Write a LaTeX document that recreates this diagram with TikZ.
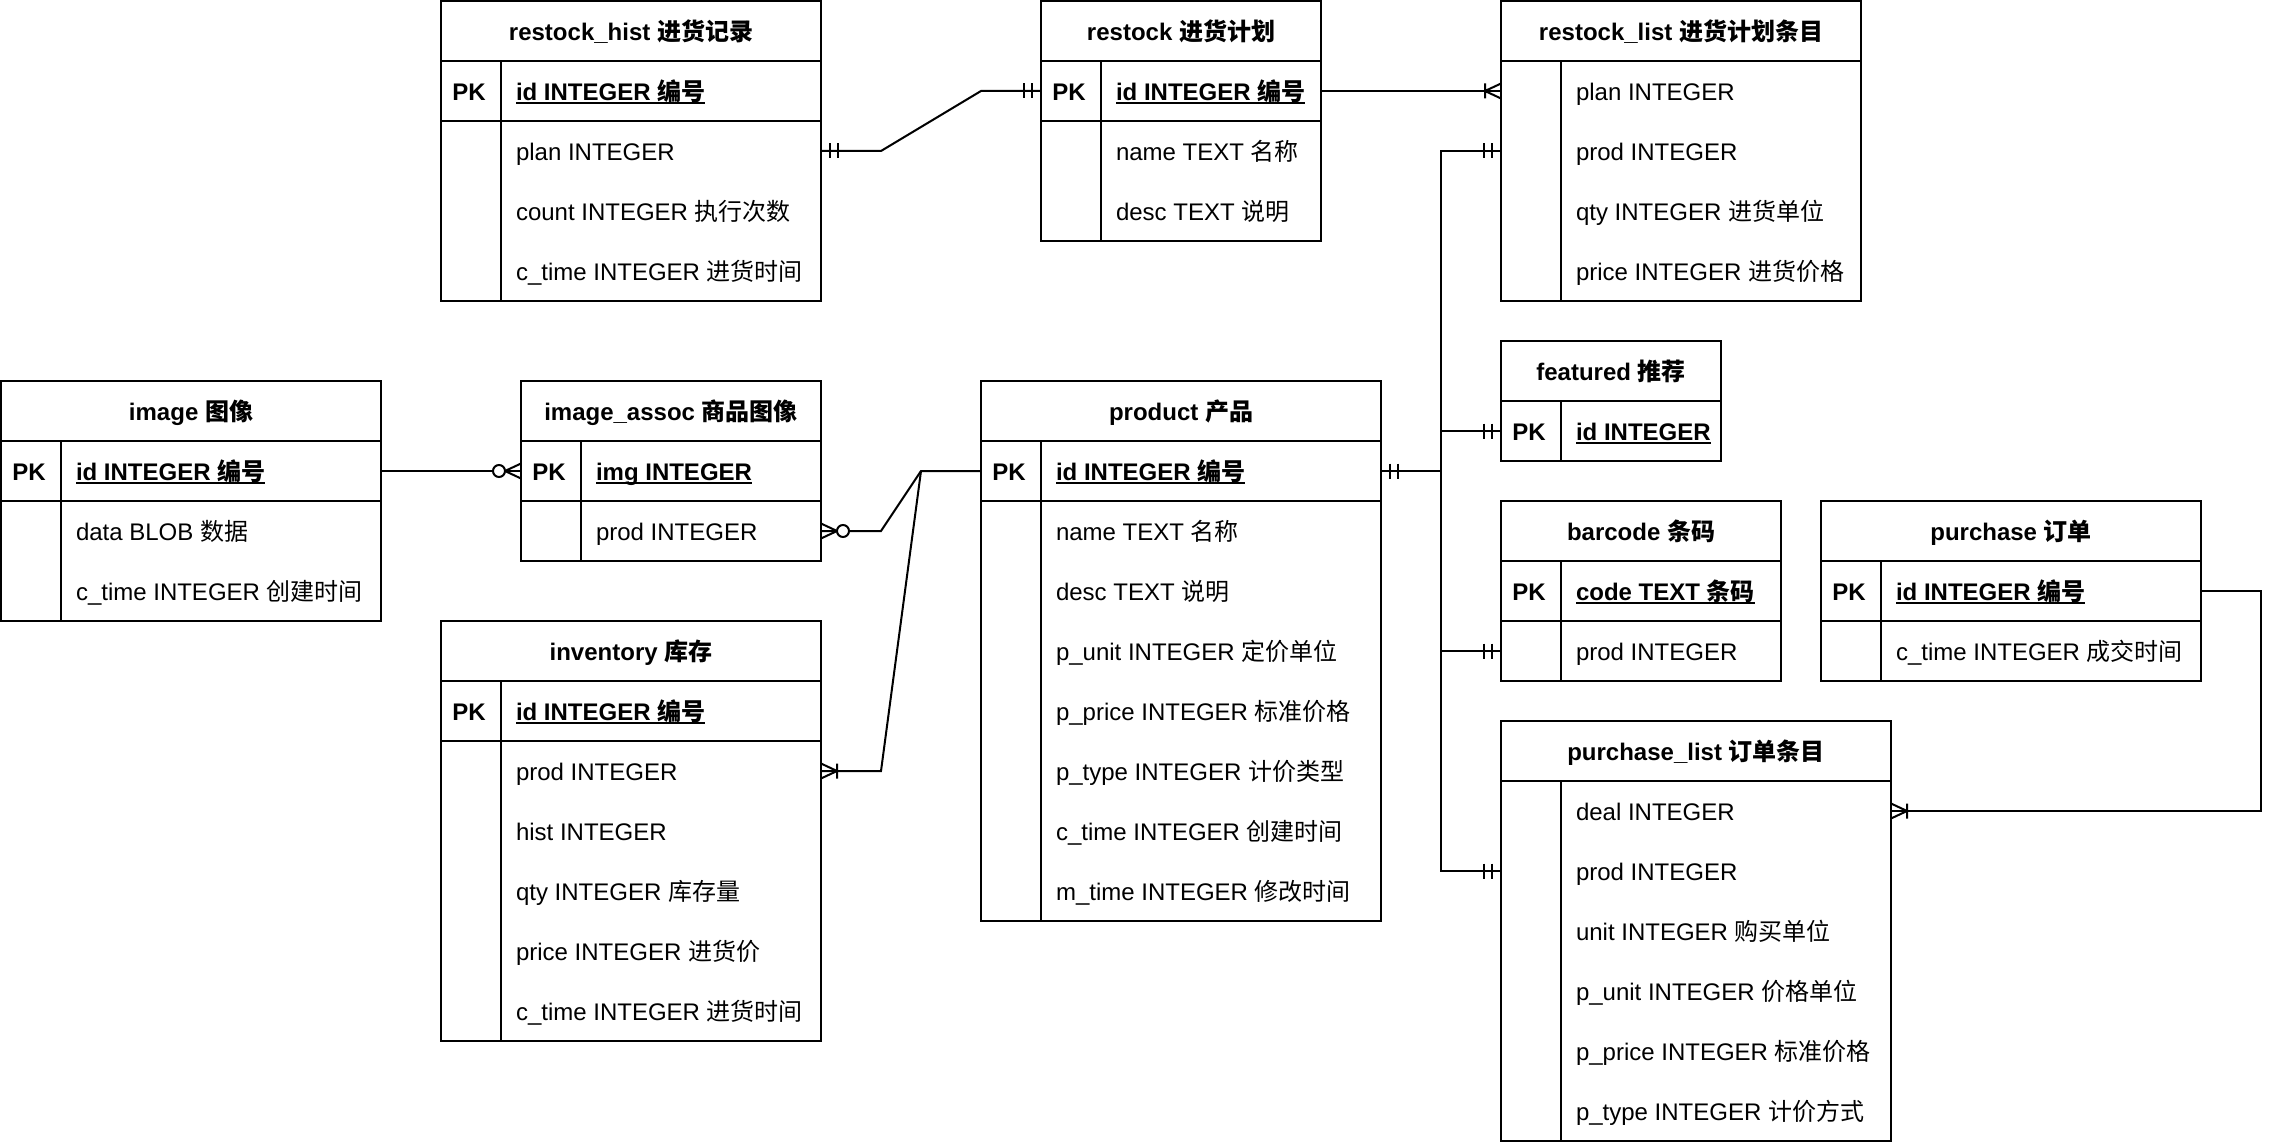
\documentclass[tikz,border=0pt]{standalone}
\usepackage{fontspec}
\setmainfont{Liberation Sans}
\newfontfamily\cjk{Noto Sans CJK SC}
\usetikzlibrary{calc}
\def\zh#1{{\cjk #1}}
\def\ul#1{\setbox0\hbox{#1}\rlap{\rule[-1.8pt]{\wd0}{1pt}}\box0}
% table body below a header node: #1 header, #2 rows, #3 rows with PK line
\def\erbody#1#2#3{%
  \draw (#1.south west) rectangle ($(#1.south east)+(0,#2*30)$);
  \draw ($(#1.south west)+(30,0)$) -- ++(0,#2*30);
  \ifnum#3>0 \draw ($(#1.south west)+(0,30)$) -- ($(#1.south east)+(0,30)$);\fi}
\tikzset{
  hdr/.style={draw, anchor=north west, minimum height=30pt, inner sep=0pt, outer sep=0pt,
    font=\bfseries, text height=11pt, text depth=1.6pt},
  fld/.style={anchor=west, inner sep=0pt, xshift=-1pt, text height=11pt, text depth=1.6pt},
  pfld/.style={fld, font=\bfseries},
  pkey/.style={fld, anchor=center, xshift=0pt, font=\bfseries},
  erone/.pic={\draw (4.5,-3.75) -- (4.5,3.75) (8.5,-3.75) -- (8.5,3.75);},
  ermany/.pic={\draw (0,-3.75) -- (8,0) -- (0,3.75) (8,-3.75) -- (8,3.75);},
  erzeromany/.pic={\draw (0,-3.75) -- (8,0) -- (0,3.75); \draw[fill=white] (11,0) circle (3);}
}
\begin{document}
\fontsize{12}{14.4}\selectfont
\begin{tikzpicture}[x=1pt, y=-1pt, line width=1pt]
\useasboundingbox (-0.5,-0.5) rectangle (1138.5,571.5);

% restock_hist
\node[hdr, minimum width=190pt] (rhist) at (220,0) {restock\_hist \zh{进货记录}};
\erbody{rhist}{4}{1}
\node[pkey] at (235,45) {PK};
\node[pfld] (rhist-id) at (258,45) {\ul{id INTEGER \zh{编号}}};
\node[fld] (rhist-plan) at (258,75) {plan INTEGER};
\node[fld] (rhist-count) at (258,105) {count INTEGER \zh{执行次数}};
\node[fld] (rhist-ctime) at (258,135) {c\_time INTEGER \zh{进货时间}};

% restock
\node[hdr, minimum width=140pt] (rplan) at (520,0) {restock \zh{进货计划}};
\erbody{rplan}{3}{1}
\node[pkey] at (535,45) {PK};
\node[pfld] (rplan-id) at (558,45) {\ul{id INTEGER \zh{编号}}};
\node[fld] (rplan-name) at (558,75) {name TEXT \zh{名称}};
\node[fld] (rplan-desc) at (558,105) {desc TEXT \zh{说明}};

% restock_list
\node[hdr, minimum width=180pt] (rlist) at (750,0) {restock\_list \zh{进货计划条目}};
\erbody{rlist}{4}{0}
\node[fld] (rlist-plan) at (788,45) {plan INTEGER};
\node[fld] (rlist-prod) at (788,75) {prod INTEGER};
\node[fld] (rlist-qty) at (788,105) {qty INTEGER \zh{进货单位}};
\node[fld] (rlist-price) at (788,135) {price INTEGER \zh{进货价格}};

% featured
\node[hdr, minimum width=110pt] (feat) at (750,170) {featured \zh{推荐}};
\erbody{feat}{1}{0}
\node[pkey] at (765,215) {PK};
\node[pfld] (feat-id) at (788,215) {\ul{id INTEGER}};

% image
\node[hdr, minimum width=190pt] (img) at (0,190) {image \zh{图像}};
\erbody{img}{3}{1}
\node[pkey] at (15,235) {PK};
\node[pfld] (img-id) at (38,235) {\ul{id INTEGER \zh{编号}}};
\node[fld] (img-data) at (38,265) {data BLOB \zh{数据}};
\node[fld] (img-ctime) at (38,295) {c\_time INTEGER \zh{创建时间}};

% image_assoc
\node[hdr, minimum width=150pt] (assoc) at (260,190) {image\_assoc \zh{商品图像}};
\erbody{assoc}{2}{1}
\node[pkey] at (275,235) {PK};
\node[pfld] (assoc-img) at (298,235) {\ul{img INTEGER}};
\node[fld] (assoc-prod) at (298,265) {prod INTEGER};

% product
\node[hdr, minimum width=200pt] (prod) at (490,190) {product \zh{产品}};
\erbody{prod}{8}{1}
\node[pkey] at (505,235) {PK};
\node[pfld] (prod-id) at (528,235) {\ul{id INTEGER \zh{编号}}};
\node[fld] (prod-name) at (528,265) {name TEXT \zh{名称}};
\node[fld] (prod-desc) at (528,295) {desc TEXT \zh{说明}};
\node[fld] (prod-punit) at (528,325) {p\_unit INTEGER \zh{定价单位}};
\node[fld] (prod-pprice) at (528,355) {p\_price INTEGER \zh{标准价格}};
\node[fld] (prod-ptype) at (528,385) {p\_type INTEGER \zh{计价类型}};
\node[fld] (prod-ctime) at (528,415) {c\_time INTEGER \zh{创建时间}};
\node[fld] (prod-mtime) at (528,445) {m\_time INTEGER \zh{修改时间}};

% inventory
\node[hdr, minimum width=190pt] (inv) at (220,310) {inventory \zh{库存}};
\erbody{inv}{6}{1}
\node[pkey] at (235,355) {PK};
\node[pfld] (inv-id) at (258,355) {\ul{id INTEGER \zh{编号}}};
\node[fld] (inv-prod) at (258,385) {prod INTEGER};
\node[fld] (inv-hist) at (258,415) {hist INTEGER};
\node[fld] (inv-qty) at (258,445) {qty INTEGER \zh{库存量}};
\node[fld] (inv-price) at (258,475) {price INTEGER \zh{进货价}};
\node[fld] (inv-ctime) at (258,505) {c\_time INTEGER \zh{进货时间}};

% barcode
\node[hdr, minimum width=140pt] (code) at (750,250) {barcode \zh{条码}};
\erbody{code}{2}{1}
\node[pkey] at (765,295) {PK};
\node[pfld] (code-code) at (788,295) {\ul{code TEXT \zh{条码}}};
\node[fld] (code-prod) at (788,325) {prod INTEGER};

% purchase
\node[hdr, minimum width=190pt] (deal) at (910,250) {purchase \zh{订单}};
\erbody{deal}{2}{1}
\node[pkey] at (925,295) {PK};
\node[pfld] (deal-id) at (948,295) {\ul{id INTEGER \zh{编号}}};
\node[fld] (deal-ctime) at (948,325) {c\_time INTEGER \zh{成交时间}};

% purchase_list
\node[hdr, minimum width=195pt] (dlist) at (750,360) {purchase\_list \zh{订单条目}};
\erbody{dlist}{6}{0}
\node[fld] (dlist-deal) at (788,405) {deal INTEGER};
\node[fld] (dlist-prod) at (788,435) {prod INTEGER};
\node[fld] (dlist-unit) at (788,465) {unit INTEGER \zh{购买单位}};
\node[fld] (dlist-punit) at (788,495) {p\_unit INTEGER \zh{价格单位}};
\node[fld] (dlist-pprice) at (788,525) {p\_price INTEGER \zh{标准价格}};
\node[fld] (dlist-ptype) at (788,555) {p\_type INTEGER \zh{计价方式}};

% relations
\draw (rhist-plan -| rhist.east) -- ++(30,0) -- ($(rplan-id -| rplan.west)+(-30,0)$) -- (rplan-id -| rplan.west);
\path (rhist-plan -| rhist.east) pic {erone} (rplan-id -| rplan.west) pic[xscale=-1] {erone};

\draw (rplan-id -| rplan.east) -- (rlist-plan -| rlist.west);
\path (rlist-plan -| rlist.west) pic[xscale=-1] {ermany};

\coordinate (trunk) at ($(prod-id -| prod.east)+(30,0)$);
\draw (prod-id -| prod.east) -- (trunk) |- (rlist-prod -| rlist.west);
\draw (trunk) |- (feat-id -| feat.west);
\draw (trunk) |- (code-prod -| code.west);
\draw (trunk) |- (dlist-prod -| dlist.west);
\path (prod-id -| prod.east) pic {erone};
\foreach \t/\r in {rlist/rlist-prod, feat/feat-id, code/code-prod, dlist/dlist-prod}
  \path (\r -| \t.west) pic[xscale=-1] {erone};

\draw (img-id -| img.east) -- (assoc-img -| assoc.west);
\path (assoc-img -| assoc.west) pic[xscale=-1] {erzeromany};

\draw (assoc-prod -| assoc.east) -- ++(30,0) -- ($(prod-id -| prod.west)+(-30,0)$) -- (prod-id -| prod.west);
\path (assoc-prod -| assoc.east) pic {erzeromany};

\draw (inv-prod -| inv.east) -- ++(30,0) -- ($(prod-id -| prod.west)+(-30,0)$);
\path (inv-prod -| inv.east) pic {ermany};

\draw (deal-id -| deal.east) -- ++(30,0) |- (dlist-deal -| dlist.east);
\path (dlist-deal -| dlist.east) pic {ermany};
\end{tikzpicture}
\end{document}
